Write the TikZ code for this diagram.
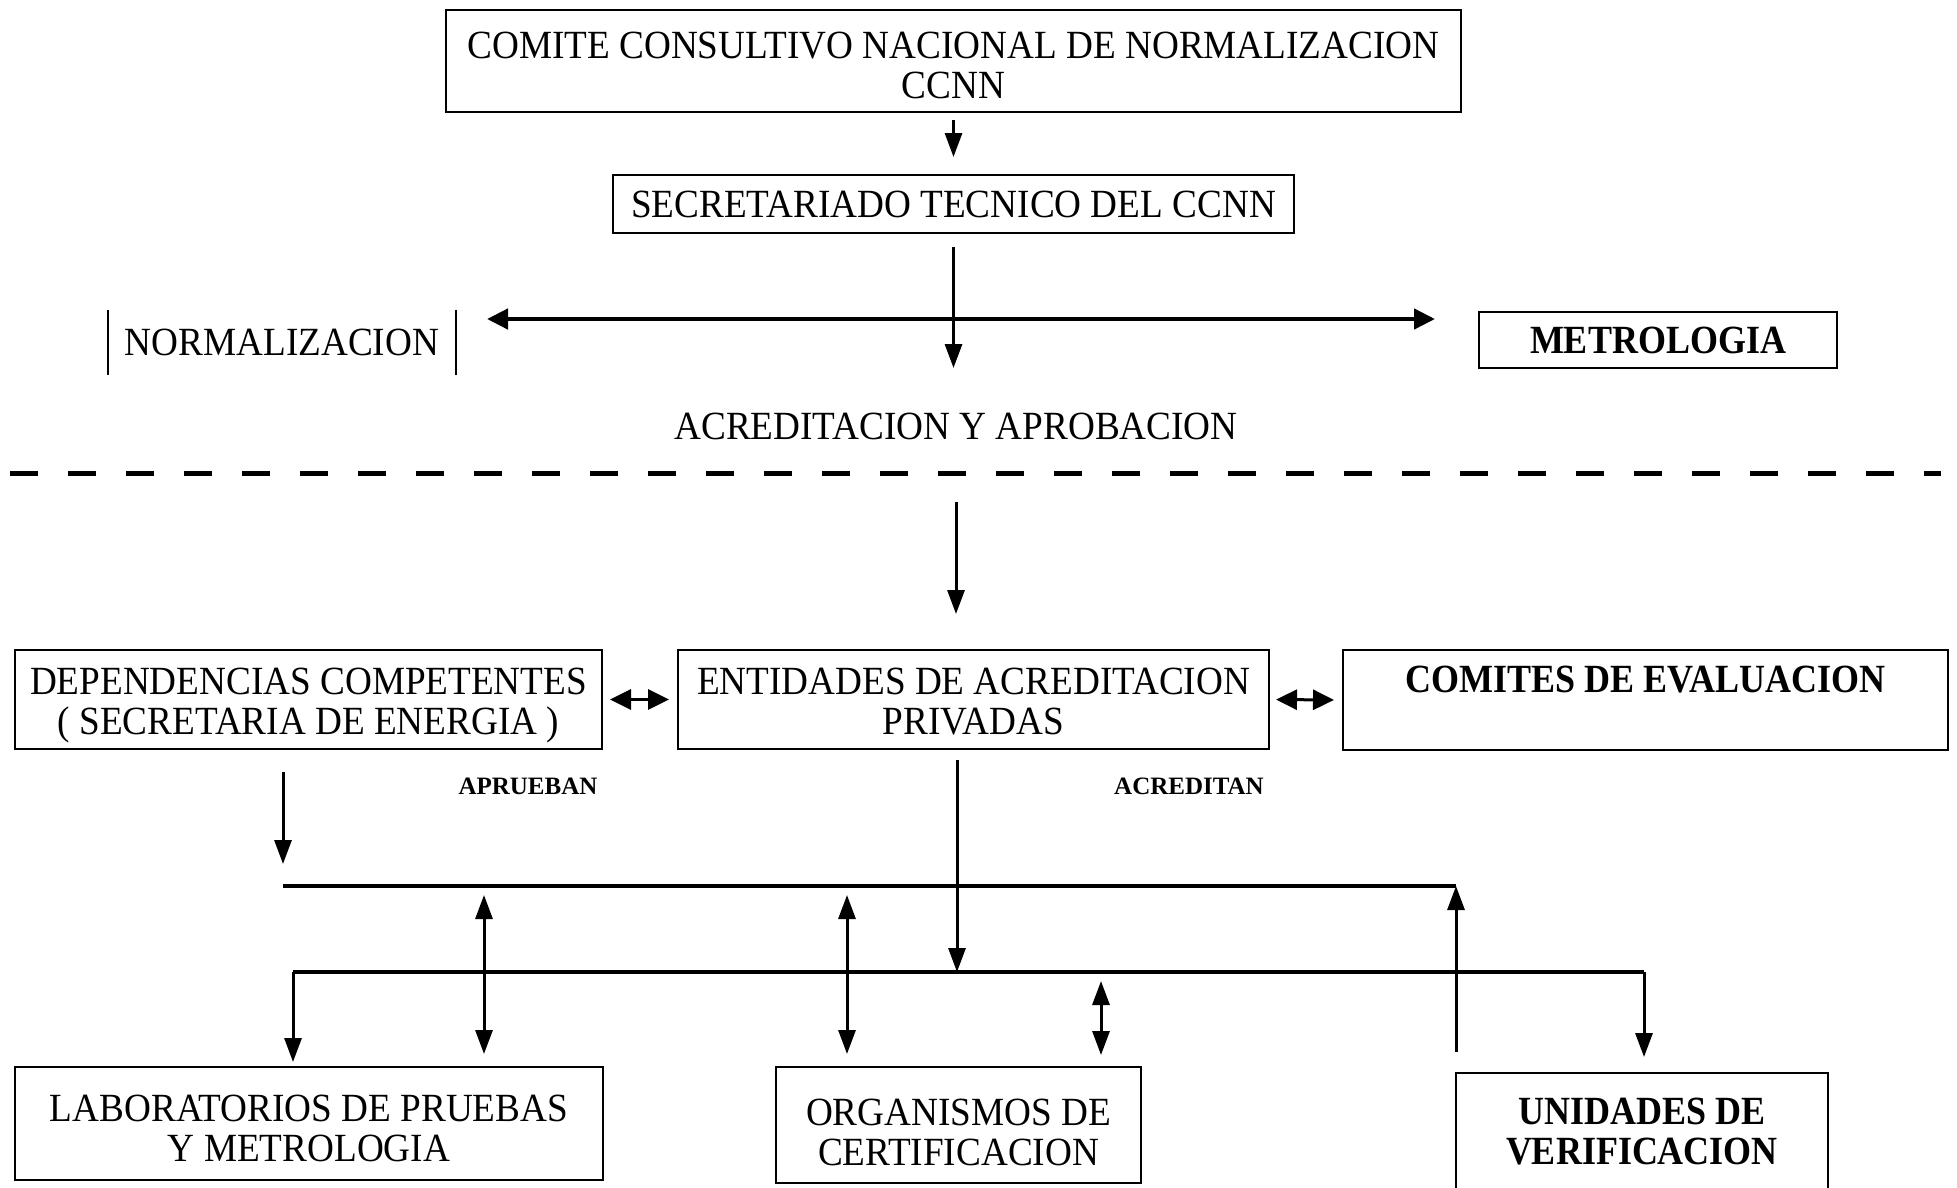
\documentclass[tikz,border=0pt]{standalone}
\usepackage{fontspec}
\setmainfont{Liberation Serif}[FakeStretch=0.93, BoldFeatures={FakeStretch=0.9}]
\newfontfamily\lblfont{Liberation Serif}
\usetikzlibrary{arrows.meta,positioning}

\begin{document}
\begin{tikzpicture}[x=1pt, y=-1pt, line width=3pt,
  font=\fontsize{40}{40}\selectfont,
  box/.style = {draw, line width=2pt, align=center, inner sep=0pt, text depth=0pt},
  bfbox/.style = {box, font=\fontsize{40}{40}\selectfont\bfseries},
  bus/.style = {line width=4.5pt},
  arr/.style = {-{Triangle[length=24pt,width=17pt]}},
  dblh/.style = {{Triangle[length=21pt,width=20pt]}-{Triangle[length=21pt,width=20pt]}},
  dblv/.style = {{Triangle[length=24pt,width=17pt]}-{Triangle[length=24pt,width=17pt]}},
  lbl/.style = {font=\lblfont\fontsize{25}{25}\selectfont\bfseries}]
\useasboundingbox (0,0) rectangle (1957,1187);
\node[box, minimum width=1015, minimum height=102, text height=74pt] (ccnn) at (953.5,61) {COMITE CONSULTIVO NACIONAL DE NORMALIZACION\\CCNN};
\node[box, minimum width=681, minimum height=58, text height=27pt] (sec) at (953.5,204) {SECRETARIADO TECNICO DEL CCNN};
\node[minimum width=345, minimum height=62, inner sep=0pt] (norm) at (282,342) {NORMALIZACION};
\draw[line width=2pt] (norm.north west) -- (norm.south west) (norm.north east) -- (norm.south east);
\node[bfbox, minimum width=358, minimum height=56, text height=27pt] (metro) at (1658,340) {METROLOGIA};
\node (acr) at (956,426) {ACREDITACION Y APROBACION};
\node[box, minimum width=587, minimum height=99, text height=69pt] (dep) at (308.5,699.5) {DEPENDENCIAS COMPETENTES\\( SECRETARIA DE ENERGIA )};
\node[box, minimum width=591, minimum height=99, text height=69pt] (ent) at (973.5,699.5) {ENTIDADES DE ACREDITACION\\PRIVADAS};
\node[bfbox, minimum width=605, minimum height=100, text height=27pt, text depth=43pt] (com) at (1645.5,700) {COMITES DE EVALUACION};
\node[lbl] (apr) at (528,786) {APRUEBAN};
\node[lbl] (acd) at (1189,786) {ACREDITAN};
\node[box, minimum width=588, minimum height=113, text height=76pt] (lab) at (309,1123.5) {LABORATORIOS DE PRUEBAS\\Y METROLOGIA};
\node[box, minimum width=365, minimum height=116, text height=80pt] (org) at (958.5,1125) {ORGANISMOS DE\\CERTIFICACION};
\node[bfbox, minimum width=372, minimum height=117, text height=65pt] (uni) at (1642,1131.5) {UNIDADES DE\\VERIFICACION};
\coordinate (sd) at (953.5,368);
\coordinate (hl) at (487,319);
\coordinate (hr) at (1435,319);
\coordinate (dl) at (10,473);
\coordinate (dr) at (1941,473);
\coordinate (a2) at (956,502);
\coordinate (dq) at (283,864);
\coordinate (l1a) at (283,886);
\coordinate (l1b) at (1456,886);
\coordinate (l2a) at (293,972);
\coordinate (l2m) at (957,972);
\coordinate (l2b) at (1644,972);
\coordinate (u1) at (484,895);
\coordinate (u2) at (847,895);
\coordinate (u3) at (1101,981);
\coordinate (v1) at (1456,1052);
\draw[arr, shorten <=7pt, shorten >=17pt] (ccnn) -- (sec);
\draw[arr, shorten <=13pt] (sec) -- (sd);
\draw[dblh, bus] (hl) -- (hr);
\draw[line width=5pt, dash pattern=on 28pt off 30pt] (dl) -- (dr);
\draw[arr, shorten >=35pt] (a2) -- (a2 |- ent.north);
\draw[dblh, shorten <=7pt, shorten >=8pt] (dep) -- (ent);
\draw[dblh, shorten <=6pt, shorten >=8pt] (ent.east) -- (com.west);
\draw[arr, shorten <=22pt] (dep.south -| dq) -- (dq);
\draw[bus] (l1a) -- (l1b);
\draw[arr, shorten <=10pt] (ent.south -| l2m) -- (l2m);
\draw[bus] (l2a) -- (l2b);
\draw[arr, shorten >=4pt] (l2a) -- (l2a |- lab.north);
\draw[arr, shorten >=15pt] (l2b) -- (l2b |- uni.north);
\draw[dblv, shorten >=12pt] (u1) -- (u1 |- lab.north);
\draw[dblv, shorten >=12pt] (u2) -- (u2 |- org.north);
\draw[dblv, shorten >=11pt] (u3) -- (u3 |- org.north);
\draw[arr] (v1) -- (v1 |- l1b);
\end{tikzpicture}
\end{document}
